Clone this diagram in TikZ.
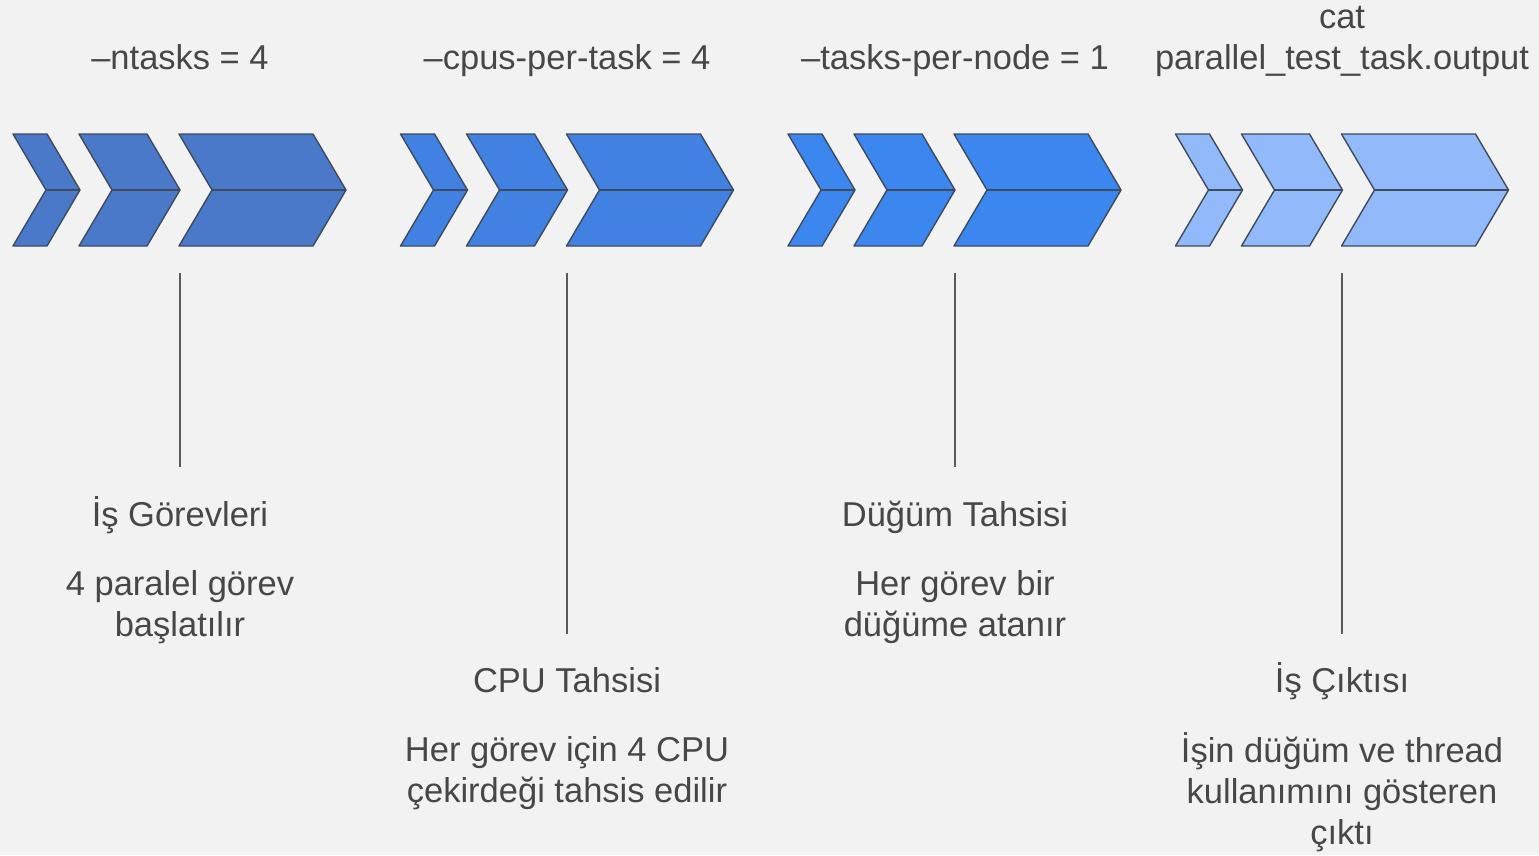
\documentclass[tikz,border=0pt]{standalone}
\usepackage{fontspec}
\setmainfont{Liberation Sans}
\begin{document}
\begin{tikzpicture}[x=1pt,y=-1pt,
  lbl/.style={text=txtgray,font=\fontsize{34.5}{41}\selectfont,align=center,inner sep=0pt,anchor=base},
  multi/.style={lbl,anchor=north},
  chevbox/.style={draw=edgegray,line width=1.4pt,line join=round},
  stem/.style={draw=stemgray,line width=1.3pt}]
\definecolor{bg}{HTML}{F2F2F2}
\definecolor{txtgray}{HTML}{474747}
\definecolor{edgegray}{HTML}{3E4B5E}
\definecolor{stemgray}{HTML}{5A5A5A}
\definecolor{cA}{HTML}{4A79C9}
\definecolor{cB}{HTML}{4081E1}
\definecolor{cC}{HTML}{3C86F0}
\definecolor{cD}{HTML}{92B9F9}
\fill[bg] (0,0) rectangle (1539,855);
\useasboundingbox (0,0) rectangle (1539,855);
% one chevron: left edge, body width, fill
\newcommand{\chevron}[3]{%
  \filldraw[chevbox,fill=#3] (#1,134) -- ++(#2,0) -- ++(33,56) -- ++(-33,56)
    -- ++(-#2,0) -- ++(33,-56) -- cycle;
  \draw[chevbox] (#1+33,190) -- ++(#2,0);}
% a group of three chevrons shifted by an offset
\newcommand{\chevgroup}[2]{%
  \chevron{13+#1}{34}{#2}
  \chevron{79+#1}{68}{#2}
  \chevron{179+#1}{134}{#2}}
\chevgroup{0}{cA}
\chevgroup{387.5}{cB}
\chevgroup{775}{cC}
\chevgroup{1162.5}{cD}

% option labels above (first baselines; struts fix the top of multi-line blocks)
\node[lbl] (o1) at (180,69.5) {--ntasks = 4};
\node[lbl] (o2) at (567,69.5) {--cpus-per-task = 4};
\node[lbl] (o3) at (955,69.5) {--tasks-per-node = 1};
\node[multi] (o4) at (1342,0) {\strut cat\\parallel\_test\_task.output};

% stems below the chevrons
\coordinate (s1a) at (180,273); \coordinate (s1b) at (180,467);
\coordinate (s2a) at (567,273); \coordinate (s2b) at (567,634);
\coordinate (s3a) at (955,273); \coordinate (s3b) at (955,467);
\coordinate (s4a) at (1342,273); \coordinate (s4b) at (1342,634);
\draw[stem] (s1a) -- (s1b);
\draw[stem] (s2a) -- (s2b);
\draw[stem] (s3a) -- (s3b);
\draw[stem] (s4a) -- (s4b);

% headings and descriptions
\node[lbl] (h1) at (180,526.5) {İş Görevleri};
\node[multi] (d1) at (180,595.5-28.7) {\strut 4 paralel görev\\başlatılır};
\node[lbl] (h2) at (567,692.5) {CPU Tahsisi};
\node[multi] (d2) at (567,761.5-28.7) {\strut Her görev için 4 CPU\\çekirdeği tahsis edilir};
\node[lbl] (h3) at (955,526.5) {Düğüm Tahsisi};
\node[multi] (d3) at (955,595.5-28.7) {\strut Her görev bir\\düğüme atanır};
\node[lbl] (h4) at (1342,692.5) {İş Çıktısı};
\node[multi] (d4) at (1342,761.5-28.7) {\strut İşin düğüm ve thread\\kullanımını gösteren\\çıktı};
\end{tikzpicture}
\end{document}
